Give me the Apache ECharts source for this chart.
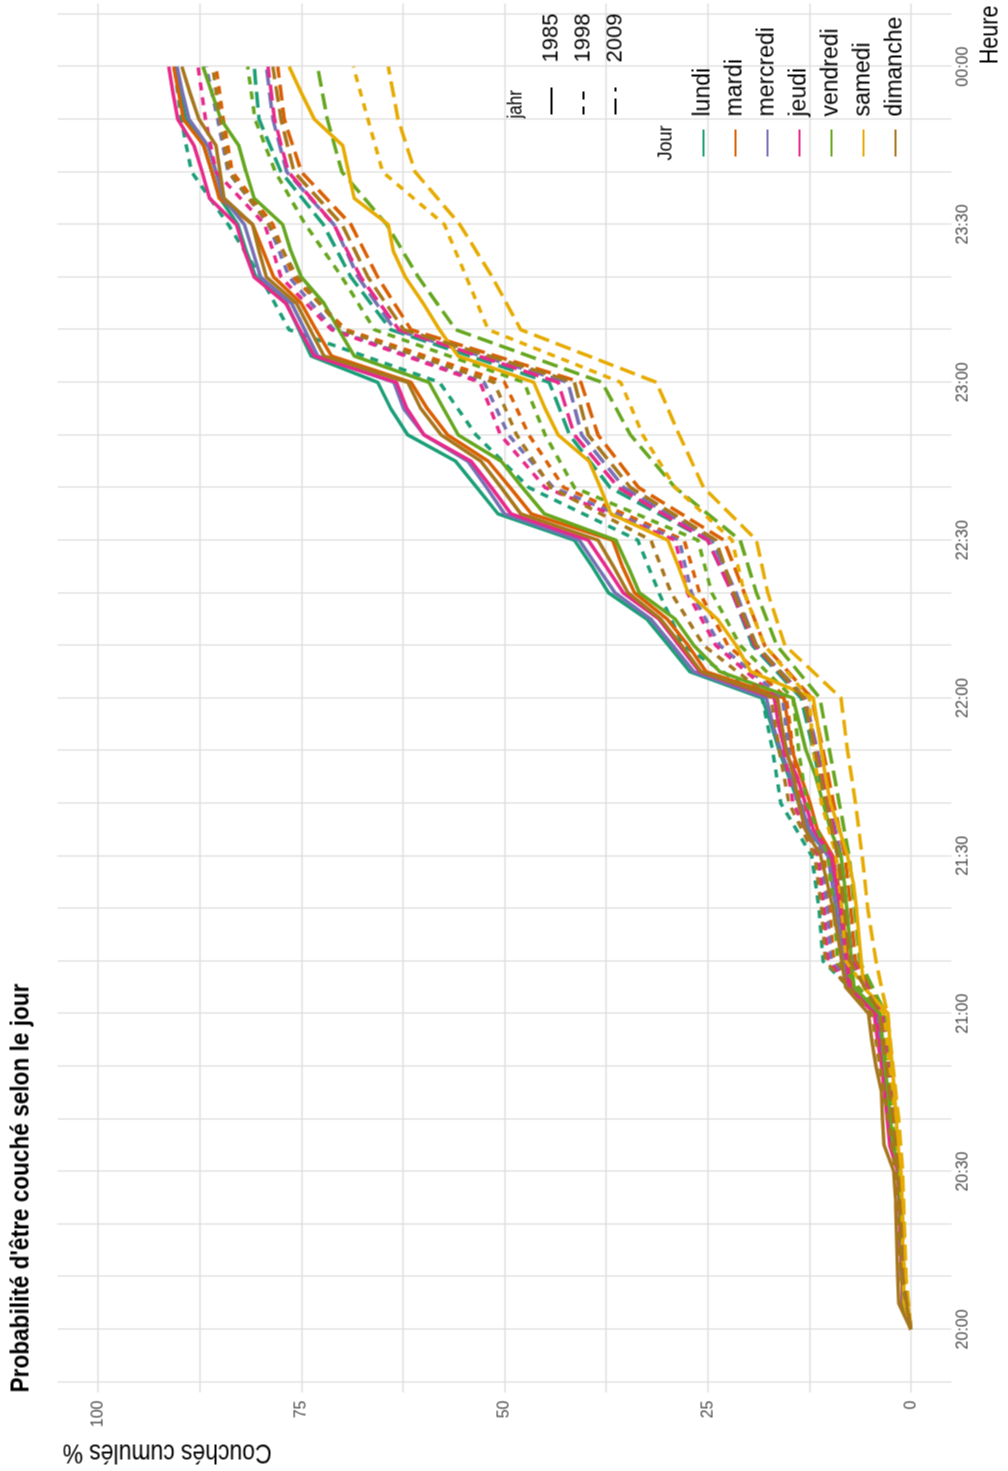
<!DOCTYPE html>
<html>
<head>
<meta charset="utf-8">
<title>Probabilité d'être couché selon le jour</title>
<script src="https://cdn.jsdelivr.net/npm/echarts@6.0.0/dist/echarts.min.js"></script>
<style>
html, body { margin: 0; padding: 0; background: #fff; overflow: hidden; }
body { width: 1008px; height: 1471px; position: relative; }
/* the plot is laid out landscape, then turned a quarter turn to the left */
#chart { position: absolute; width: 1471px; height: 1008px; left: -231.5px; top: 231.5px; transform: rotate(-90deg); }
</style>
</head>
<body>
<div id="chart"></div>
<script>
// minutes after 20:00 (1985 is sampled every 5 min, 1998 and 2009 every 10 min)
var minutes5 = [0, 5, 10, 15, 20, 25, 30, 35, 40, 45, 50, 55, 60, 65, 70, 75, 80, 85, 90, 95, 100, 105, 110, 115, 120,
    125, 130, 135, 140, 145, 150, 155, 160, 165, 170, 175, 180, 185, 190, 195, 200, 205, 210, 215, 220, 225, 230, 235, 240]
var minutes10 = [0, 10, 20, 30, 40, 50, 60, 70, 80, 90, 100, 110, 120, 130, 140, 150, 160, 170, 180, 190, 200, 210, 220, 230, 240]

var jours = ['lundi', 'mardi', 'mercredi', 'jeudi', 'vendredi', 'samedi', 'dimanche']
var annees = ['1985', '1998', '2009']

// axis ticks
var heureLabels = [0, 30, 60, 90, 120, 150, 180, 210, 240]
var heureGrid = [-10, 0, 10, 20, 30, 40, 50, 60, 70, 80, 90, 100, 110, 120, 130, 140, 150, 160, 170, 180, 190, 200, 210, 220, 230, 240, 250]
var pctLabels = [0, 25, 50, 75, 100]
var pctGrid = [0, 12.5, 25, 37.5, 50, 62.5, 75, 87.5, 100]

// couchés cumulés (%), 1985
var lundi1985 = [0, 1.0, 1.1, 1.2, 1.3, 1.4, 1.5, 2.4, 2.7, 3.0, 3.5, 3.9, 4.3,
    7.6, 8.0, 8.4, 8.8, 9.3, 10.0, 12.8, 13.8, 15.0, 16.2, 17.2, 18.3,
    27.2, 29.8, 32.5, 37.2, 39.2, 41.4, 50.8, 53.4, 56.0, 61.9, 64.0, 65.6,
    73.8, 75.3, 76.8, 80.6, 81.8, 82.8, 85.0, 86.0, 87.0, 89.2, 89.9, 90.6]
var mardi1985 = [0, 1.0, 1.1, 1.2, 1.3, 1.4, 1.5, 2.3, 2.6, 2.9, 3.3, 3.7, 4.0,
    7.3, 7.7, 8.1, 8.5, 9.0, 9.6, 11.5, 12.4, 13.5, 14.6, 15.1, 15.6,
    25.2, 27.4, 30.0, 34.0, 35.5, 36.7, 46.7, 49.3, 52.0, 57.0, 59.5, 61.5,
    71.3, 73.2, 75.0, 78.4, 79.7, 81.0, 85.1, 86.0, 87.0, 89.5, 90.1, 90.7]
var mercredi1985 = [0, 1.0, 1.1, 1.2, 1.3, 1.4, 1.5, 2.4, 2.7, 3.0, 3.4, 3.9, 4.3,
    7.8, 8.3, 8.8, 9.2, 9.7, 10.2, 12.5, 13.6, 14.8, 16.0, 17.0, 17.8,
    26.7, 29.3, 32.0, 36.4, 38.6, 40.8, 50.0, 52.2, 54.5, 59.9, 62.4, 63.6,
    73.0, 74.6, 76.2, 80.0, 81.0, 82.0, 84.6, 85.5, 86.5, 88.8, 89.6, 90.3]
var jeudi1985 = [0, 1.0, 1.1, 1.2, 1.3, 1.4, 1.6, 2.6, 2.9, 3.2, 3.6, 4.1, 4.5,
    7.5, 7.9, 8.3, 8.7, 9.2, 9.8, 12.0, 13.0, 14.0, 15.5, 16.3, 16.8,
    26.0, 28.5, 31.0, 35.4, 37.5, 39.7, 49.2, 51.6, 54.1, 59.9, 62.0, 63.3,
    73.4, 75.2, 76.9, 80.8, 82.0, 83.0, 86.3, 87.2, 88.2, 90.2, 90.8, 91.3]
var vendredi1985 = [0, 0.9, 1.0, 1.1, 1.2, 1.3, 1.4, 2.2, 2.5, 2.8, 3.2, 3.5, 3.8,
    7.0, 7.3, 7.6, 7.9, 8.2, 8.6, 9.9, 10.8, 11.7, 12.9, 13.7, 14.5,
    23.5, 26.7, 29.0, 33.4, 34.8, 36.3, 45.1, 47.8, 50.4, 55.7, 57.5, 59.3,
    68.5, 70.4, 72.2, 75.0, 76.3, 77.3, 80.8, 81.8, 82.7, 84.9, 86.0, 87.1]
var samedi1985 = [0, 0.8, 0.9, 1.0, 1.0, 1.1, 1.2, 1.6, 1.8, 2.0, 2.3, 2.6, 2.8,
    5.8, 6.1, 6.4, 6.7, 7.1, 7.8, 8.8, 9.9, 10.5, 11.0, 11.5, 12.0,
    19.7, 21.5, 23.8, 27.4, 28.6, 29.9, 36.9, 38.2, 39.6, 43.4, 45.0, 46.4,
    55.7, 58.0, 60.0, 62.2, 63.7, 64.3, 68.5, 69.2, 69.9, 73.4, 75.0, 76.5]
var dimanche1985 = [0, 1.5, 1.6, 1.7, 1.8, 1.9, 2.1, 3.3, 3.5, 3.6, 4.3, 4.8, 5.2,
    8.0, 8.5, 9.0, 9.6, 10.3, 11.1, 13.0, 13.8, 14.4, 15.3, 15.9, 16.4,
    25.8, 28.2, 30.8, 34.8, 36.6, 38.5, 48.0, 50.4, 52.9, 57.8, 60.3, 61.9,
    72.2, 73.9, 75.6, 79.3, 80.2, 81.0, 84.5, 85.0, 85.5, 87.6, 88.7, 89.7]

// couchés cumulés (%), 1998
var lundi1998 = [0, 1.1, 1.4, 1.8, 2.6, 3.5, 4.4, 10.8, 11.3, 12.2, 16.0, 17.0, 18.3, 28.0, 31.0, 33.6, 47.0, 53.5, 58.0, 76.5, 80.0, 84.0, 88.5, 89.8, 90.6]
var mardi1998 = [0, 1.0, 1.3, 1.6, 2.3, 3.1, 4.0, 9.5, 10.0, 10.7, 13.5, 14.5, 15.3, 22.5, 26.0, 27.9, 42.7, 47.0, 50.0, 69.5, 76.0, 78.5, 83.5, 84.6, 85.5]
var mercredi1998 = [0, 1.0, 1.3, 1.6, 2.4, 3.2, 4.1, 9.8, 10.3, 11.0, 14.0, 15.0, 15.8, 23.5, 27.0, 28.5, 44.0, 49.5, 52.5, 71.0, 76.5, 79.0, 84.0, 85.3, 86.7]
var jeudi1998 = [0, 1.1, 1.4, 1.7, 2.5, 3.4, 4.3, 10.2, 10.7, 11.4, 14.5, 15.6, 16.5, 24.0, 27.5, 29.0, 45.0, 50.5, 53.0, 71.3, 77.5, 79.5, 85.5, 86.8, 87.7]
var vendredi1998 = [0, 0.9, 1.2, 1.5, 2.2, 3.0, 3.8, 9.0, 9.5, 10.2, 12.8, 13.8, 14.5, 21.0, 24.5, 26.2, 41.4, 45.0, 47.6, 66.0, 70.0, 74.5, 78.2, 80.7, 81.6]
var samedi1998 = [0, 0.8, 1.0, 1.3, 1.9, 2.6, 3.3, 8.0, 8.5, 9.2, 11.0, 12.0, 12.5, 18.0, 20.5, 22.0, 29.0, 33.0, 35.7, 52.0, 54.7, 57.4, 65.0, 66.8, 68.6]
var dimanche1998 = [0, 1.2, 1.5, 1.9, 2.8, 3.8, 4.8, 10.5, 11.0, 11.8, 15.0, 16.2, 17.2, 25.5, 29.5, 32.0, 44.3, 48.5, 51.3, 70.0, 75.5, 79.0, 83.9, 85.0, 85.9]

// couchés cumulés (%), 2009
var lundi2009 = [0, 0.9, 1.1, 1.4, 2.0, 2.8, 3.6, 7.5, 8.2, 9.0, 10.5, 12.0, 13.5, 19.5, 22.0, 25.0, 37.0, 42.0, 44.5, 64.0, 68.9, 72.3, 77.5, 80.2, 80.8]
var mardi2009 = [0, 0.8, 1.0, 1.3, 1.8, 2.5, 3.3, 6.8, 7.4, 8.1, 9.5, 10.8, 12.2, 18.0, 20.5, 23.0, 33.5, 38.5, 40.6, 61.5, 65.6, 68.9, 75.0, 77.1, 77.9]
var mercredi2009 = [0, 0.9, 1.1, 1.4, 1.9, 2.7, 3.5, 7.2, 7.9, 8.6, 10.0, 11.5, 13.0, 19.0, 21.5, 24.5, 35.3, 40.5, 42.2, 63.5, 68.0, 71.0, 76.8, 78.5, 79.3]
var jeudi2009 = [0, 0.9, 1.1, 1.4, 2.0, 2.7, 3.5, 7.3, 8.0, 8.8, 10.2, 11.7, 13.2, 19.2, 22.0, 25.0, 36.0, 41.4, 43.4, 63.0, 67.7, 71.0, 76.6, 78.3, 79.1]
var vendredi2009 = [0, 0.7, 0.9, 1.2, 1.7, 2.4, 3.1, 6.3, 6.9, 7.6, 8.8, 10.0, 11.2, 16.5, 19.0, 21.0, 29.0, 34.5, 38.0, 56.0, 60.6, 64.5, 70.0, 71.8, 73.0]
var samedi2009 = [0, 0.6, 0.8, 1.0, 1.5, 2.2, 2.9, 4.3, 5.3, 6.0, 6.8, 7.8, 8.6, 15.5, 17.6, 19.0, 25.5, 28.5, 31.3, 48.0, 51.5, 55.5, 61.0, 63.1, 64.3]
var dimanche2009 = [0, 1.0, 1.2, 1.6, 2.2, 3.0, 3.8, 7.5, 8.2, 9.0, 10.4, 11.8, 13.2, 19.0, 21.8, 24.0, 34.5, 39.7, 41.4, 62.4, 66.8, 70.0, 75.9, 77.5, 78.5]

var courbes = {
    '1985': [lundi1985, mardi1985, mercredi1985, jeudi1985, vendredi1985, samedi1985, dimanche1985],
    '1998': [lundi1998, mardi1998, mercredi1998, jeudi1998, vendredi1998, samedi1998, dimanche1998],
    '2009': [lundi2009, mardi2009, mercredi2009, jeudi2009, vendredi2009, samedi2009, dimanche2009]
}
var temps = { '1985': minutes5, '1998': minutes10, '2009': minutes10 }

// look
var couleurs = ['#1b9e77', '#d95f02', '#7570b3', '#e7298a', '#66a61e', '#e6ab02', '#a6761d']
var traits = { '1985': 'solid', '1998': [8, 7], '2009': [16, 7] }
var FONT = "'Liberation Sans', Arial, sans-serif"
var LW = 3.5

function hhmm(m) {
    var t = (20 * 60 + m) % 1440
    var h = Math.floor(t / 60)
    var mn = t % 60
    return (h < 10 ? '0' : '') + h + ':' + (mn < 10 ? '0' : '') + mn
}

// free text, squeezed a little along its run to get the narrow look of the original
function texte(str, x, y, font, align, sx, rot) {
    return {
        type: 'text', x: x, y: y, rotation: rot || 0, scaleX: sx, silent: true,
        style: { text: str, x: 0, y: 0, font: font, fill: '#000', textAlign: align, textVerticalAlign: 'middle' }
    }
}

var series = []
jours.forEach(function(jour, j) {
    annees.forEach(function(an) {
        var xs = temps[an]
        var ys = courbes[an][j]
        series.push({
            name: jour + ' ' + an,
            type: 'line',
            symbol: 'none',
            silent: true,
            data: xs.map(function(m, i) { return [m, ys[i]] }),
            lineStyle: { color: couleurs[j], width: LW, type: traits[an], join: 'round', cap: 'butt' },
            itemStyle: { color: couleurs[j] }
        })
    })
})
// empty series, only there to feed the two legends
annees.forEach(function(an) {
    series.push({ name: an, type: 'line', symbol: 'none', data: [],
        lineStyle: { color: '#000', width: LW, type: traits[an] }, itemStyle: { color: '#000' } })
})
jours.forEach(function(jour, j) {
    series.push({ name: jour, type: 'line', symbol: 'none', data: [],
        lineStyle: { color: couleurs[j], width: LW, type: 'solid' }, itemStyle: { color: couleurs[j] } })
})

var grille = { show: true, lineStyle: { color: '#dedede', width: 1.3 } }

var option = {
    backgroundColor: '#fff',
    animation: false,
    grid: { left: 79, right: 3, top: 57, bottom: 57, containLabel: false },
    xAxis: {
        type: 'value',
        min: -12,
        max: 252,
        axisLine: { show: false },
        axisTick: { show: false, customValues: heureGrid },
        splitLine: grille,
        axisLabel: {
            customValues: heureLabels,
            formatter: hhmm,
            margin: 4,
            verticalAlign: 'top',
            fontFamily: FONT,
            fontSize: 16,
            color: '#4d4d4d'
        }
    },
    yAxis: {
        type: 'value',
        min: -5,
        max: 105,
        axisLine: { show: false },
        axisTick: { show: false, customValues: pctGrid },
        splitLine: grille,
        axisLabel: {
            customValues: pctLabels,
            margin: 8,
            fontFamily: FONT,
            fontSize: 16,
            color: '#4d4d4d'
        }
    },
    legend: [{
        orient: 'vertical',
        left: 1356,
        top: 535,
        padding: 0,
        itemGap: 0,
        itemWidth: 27,
        itemHeight: 1,
        selectedMode: false,
        data: annees,
        itemStyle: { opacity: 0 },
        textStyle: { fontFamily: FONT, fontSize: 22, color: '#000', lineHeight: 32, padding: [0, 0, 0, 20] }
    }, {
        orient: 'vertical',
        left: 1314,
        top: 687,
        padding: 0,
        itemGap: 0,
        itemWidth: 27,
        itemHeight: 1,
        selectedMode: false,
        data: jours,
        itemStyle: { opacity: 0 },
        textStyle: { fontFamily: FONT, fontSize: 23, color: '#000', lineHeight: 32, padding: [0, 0, 0, 8] }
    }],
    graphic: [
        texte("Probabilité d'être couché selon le jour", 79, 21, 'bold 26px ' + FONT, 'left', 0.87),
        texte('Couchés cumulés %', 20, 62, '27px ' + FONT, 'right', 0.85, Math.PI / 2),
        texte('Heure', 1466, 990, '26px ' + FONT, 'right', 0.83),
        texte('jahr', 1353, 515, '20px ' + FONT, 'left', 0.85),
        texte('Jour', 1311, 665, '21px ' + FONT, 'left', 0.86)
    ],
    series: series
}

var chart = echarts.init(document.getElementById('chart'))
chart.setOption(option)
</script>
</body>
</html>
